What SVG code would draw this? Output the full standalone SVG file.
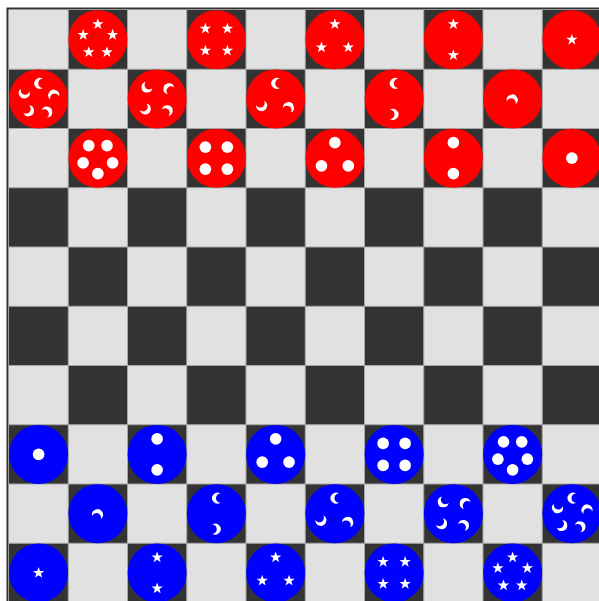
<svg xmlns="http://www.w3.org/2000/svg" xmlns:xlink="http://www.w3.org/1999/xlink" width="599" height="601" viewBox="0 0 599 601">
<style>
.dark{fill:#333333}
.grid{stroke:#a6a6a6;stroke-width:1;fill:none}
.red{fill:#ff0000}
.blue{fill:#0000ff}
.sym{fill:#ffffff}
</style>
<defs>
<circle id="dot" r="5.8" class="sym"/>
<path id="star" class="sym" d="M0,-6 L1.41,-1.94 L5.71,-1.85 L2.28,0.74 L3.53,4.85 L0,2.4 L-3.53,4.85 L-2.28,0.74 L-5.71,-1.85 L-1.41,-1.94 Z"/>
<path id="moon" class="sym" d="M4.22,-4.6 A5.5,5.5 0 1 0 4.22,4.6 A4.6,4.6 0 1 1 4.22,-4.6 Z"/>
<g id="d1"><use xlink:href="#dot"/></g>
<g id="d2"><use xlink:href="#dot" y="-15.5"/><use xlink:href="#dot" y="15.5"/></g>
<g id="d3"><use xlink:href="#dot" y="-15.5"/><use xlink:href="#dot" x="13.42" y="7.75"/><use xlink:href="#dot" x="-13.42" y="7.75"/></g>
<g id="d4"><use xlink:href="#dot" x="-11" y="-11"/><use xlink:href="#dot" x="11" y="-11"/><use xlink:href="#dot" x="-11" y="11"/><use xlink:href="#dot" x="11" y="11"/></g>
<g id="d5"><use xlink:href="#dot" y="15.5"/><use xlink:href="#dot" x="-14.74" y="4.79"/><use xlink:href="#dot" x="-9.11" y="-12.54"/><use xlink:href="#dot" x="9.11" y="-12.54"/><use xlink:href="#dot" x="14.74" y="4.79"/></g>
<g id="s1"><use xlink:href="#star"/></g>
<g id="s2"><use xlink:href="#star" y="-15.5"/><use xlink:href="#star" y="15.5"/></g>
<g id="s3"><use xlink:href="#star" y="-15.5"/><use xlink:href="#star" x="13.42" y="7.75"/><use xlink:href="#star" x="-13.42" y="7.75"/></g>
<g id="s4"><use xlink:href="#star" x="-11" y="-11"/><use xlink:href="#star" x="11" y="-11"/><use xlink:href="#star" x="-11" y="11"/><use xlink:href="#star" x="11" y="11"/></g>
<g id="s5"><use xlink:href="#star" y="-15.5"/><use xlink:href="#star" x="14.74" y="-4.79"/><use xlink:href="#star" x="9.11" y="12.54"/><use xlink:href="#star" x="-9.11" y="12.54"/><use xlink:href="#star" x="-14.74" y="-4.79"/></g>
<g id="m1"><use xlink:href="#moon" transform="rotate(110)"/></g>
<g id="m2"><use xlink:href="#moon" transform="translate(0,-15.5)"/><use xlink:href="#moon" transform="rotate(180) translate(0,-15.5)"/></g>
<g id="m3"><use xlink:href="#moon" transform="translate(0,-15.5)"/><use xlink:href="#moon" transform="rotate(120) translate(0,-15.5)"/><use xlink:href="#moon" transform="rotate(240) translate(0,-15.5)"/></g>
<g id="m4"><use xlink:href="#moon" transform="rotate(-45) translate(0,-15.5)"/><use xlink:href="#moon" transform="rotate(45) translate(0,-15.5)"/><use xlink:href="#moon" transform="rotate(135) translate(0,-15.5)"/><use xlink:href="#moon" transform="rotate(225) translate(0,-15.5)"/></g>
<g id="m5"><use xlink:href="#moon" transform="translate(0,-15.5)"/><use xlink:href="#moon" transform="rotate(72) translate(0,-15.5)"/><use xlink:href="#moon" transform="rotate(144) translate(0,-15.5)"/><use xlink:href="#moon" transform="rotate(216) translate(0,-15.5)"/><use xlink:href="#moon" transform="rotate(288) translate(0,-15.5)"/></g>
</defs>
<rect width="599" height="601" fill="#ffffff"/>
<g id="board">
<rect x="9" y="10" width="593" height="593" fill="#e1e1e1"/>
<g class="dark">
<rect x="68.25" y="10" width="59.25" height="59.25"/><rect x="186.75" y="10" width="59.25" height="59.25"/><rect x="305.25" y="10" width="59.25" height="59.25"/><rect x="423.75" y="10" width="59.25" height="59.25"/><rect x="542.25" y="10" width="59.25" height="59.25"/>
<rect x="9" y="69.25" width="59.25" height="59.25"/><rect x="127.5" y="69.25" width="59.25" height="59.25"/><rect x="246" y="69.25" width="59.25" height="59.25"/><rect x="364.5" y="69.25" width="59.25" height="59.25"/><rect x="483" y="69.25" width="59.25" height="59.25"/>
<rect x="68.25" y="128.5" width="59.25" height="59.25"/><rect x="186.75" y="128.5" width="59.25" height="59.25"/><rect x="305.25" y="128.5" width="59.25" height="59.25"/><rect x="423.75" y="128.5" width="59.25" height="59.25"/><rect x="542.25" y="128.5" width="59.25" height="59.25"/>
<rect x="9" y="187.75" width="59.25" height="59.25"/><rect x="127.5" y="187.75" width="59.25" height="59.25"/><rect x="246" y="187.75" width="59.25" height="59.25"/><rect x="364.5" y="187.75" width="59.25" height="59.25"/><rect x="483" y="187.75" width="59.25" height="59.25"/>
<rect x="68.25" y="247" width="59.25" height="59.25"/><rect x="186.75" y="247" width="59.25" height="59.25"/><rect x="305.25" y="247" width="59.25" height="59.25"/><rect x="423.75" y="247" width="59.25" height="59.25"/><rect x="542.25" y="247" width="59.25" height="59.25"/>
<rect x="9" y="306.25" width="59.25" height="59.25"/><rect x="127.5" y="306.25" width="59.25" height="59.25"/><rect x="246" y="306.25" width="59.25" height="59.25"/><rect x="364.5" y="306.25" width="59.25" height="59.25"/><rect x="483" y="306.25" width="59.25" height="59.25"/>
<rect x="68.25" y="365.5" width="59.25" height="59.25"/><rect x="186.75" y="365.5" width="59.25" height="59.25"/><rect x="305.25" y="365.5" width="59.25" height="59.25"/><rect x="423.75" y="365.5" width="59.25" height="59.25"/><rect x="542.25" y="365.5" width="59.25" height="59.25"/>
<rect x="9" y="424.75" width="59.25" height="59.25"/><rect x="127.5" y="424.75" width="59.25" height="59.25"/><rect x="246" y="424.75" width="59.25" height="59.25"/><rect x="364.5" y="424.75" width="59.25" height="59.25"/><rect x="483" y="424.75" width="59.25" height="59.25"/>
<rect x="68.25" y="484" width="59.25" height="59.25"/><rect x="186.75" y="484" width="59.25" height="59.25"/><rect x="305.25" y="484" width="59.25" height="59.25"/><rect x="423.75" y="484" width="59.25" height="59.25"/><rect x="542.25" y="484" width="59.25" height="59.25"/>
<rect x="9" y="543.25" width="59.25" height="59.25"/><rect x="127.5" y="543.25" width="59.25" height="59.25"/><rect x="246" y="543.25" width="59.25" height="59.25"/><rect x="364.5" y="543.25" width="59.25" height="59.25"/><rect x="483" y="543.25" width="59.25" height="59.25"/>
</g>
<path class="grid" d="M68.25,10V603M127.5,10V603M186.75,10V603M246,10V603M305.25,10V603M364.5,10V603M423.75,10V603M483,10V603M542.25,10V603M9,69.25H602M9,128.5H602M9,187.75H602M9,247H602M9,306.25H602M9,365.5H602M9,424.75H602M9,484H602M9,543.25H602"/>
<rect x="7.5" y="8.5" width="600" height="600" fill="none" stroke="#333333" stroke-width="2"/>
</g>
<g id="red-pieces">
<g id="red-s5" transform="translate(97.875,39.625)"><circle r="29.5" class="red"/><use xlink:href="#s5"/></g>
<g id="red-s4" transform="translate(216.375,39.625)"><circle r="29.5" class="red"/><use xlink:href="#s4"/></g>
<g id="red-s3" transform="translate(334.875,39.625)"><circle r="29.5" class="red"/><use xlink:href="#s3"/></g>
<g id="red-s2" transform="translate(453.375,39.625)"><circle r="29.5" class="red"/><use xlink:href="#s2"/></g>
<g id="red-s1" transform="translate(571.875,39.625)"><circle r="29.5" class="red"/><use xlink:href="#s1"/></g>
<g id="red-m5" transform="translate(38.625,98.875)"><circle r="29.5" class="red"/><use xlink:href="#m5"/></g>
<g id="red-m4" transform="translate(157.125,98.875)"><circle r="29.5" class="red"/><use xlink:href="#m4"/></g>
<g id="red-m3" transform="translate(275.625,98.875)"><circle r="29.5" class="red"/><use xlink:href="#m3"/></g>
<g id="red-m2" transform="translate(394.125,98.875)"><circle r="29.5" class="red"/><use xlink:href="#m2"/></g>
<g id="red-m1" transform="translate(512.625,98.875)"><circle r="29.5" class="red"/><use xlink:href="#m1"/></g>
<g id="red-d5" transform="translate(97.875,158.125)"><circle r="29.5" class="red"/><use xlink:href="#d5"/></g>
<g id="red-d4" transform="translate(216.375,158.125)"><circle r="29.5" class="red"/><use xlink:href="#d4"/></g>
<g id="red-d3" transform="translate(334.875,158.125)"><circle r="29.5" class="red"/><use xlink:href="#d3"/></g>
<g id="red-d2" transform="translate(453.375,158.125)"><circle r="29.5" class="red"/><use xlink:href="#d2"/></g>
<g id="red-d1" transform="translate(571.875,158.125)"><circle r="29.5" class="red"/><use xlink:href="#d1"/></g>
</g>
<g id="blue-pieces">
<g id="blue-d1" transform="translate(38.625,454.375)"><circle r="29.5" class="blue"/><use xlink:href="#d1"/></g>
<g id="blue-d2" transform="translate(157.125,454.375)"><circle r="29.5" class="blue"/><use xlink:href="#d2"/></g>
<g id="blue-d3" transform="translate(275.625,454.375)"><circle r="29.5" class="blue"/><use xlink:href="#d3"/></g>
<g id="blue-d4" transform="translate(394.125,454.375)"><circle r="29.5" class="blue"/><use xlink:href="#d4"/></g>
<g id="blue-d5" transform="translate(512.625,454.375)"><circle r="29.5" class="blue"/><use xlink:href="#d5"/></g>
<g id="blue-m1" transform="translate(97.875,513.625)"><circle r="29.5" class="blue"/><use xlink:href="#m1"/></g>
<g id="blue-m2" transform="translate(216.375,513.625)"><circle r="29.5" class="blue"/><use xlink:href="#m2"/></g>
<g id="blue-m3" transform="translate(334.875,513.625)"><circle r="29.5" class="blue"/><use xlink:href="#m3"/></g>
<g id="blue-m4" transform="translate(453.375,513.625)"><circle r="29.5" class="blue"/><use xlink:href="#m4"/></g>
<g id="blue-m5" transform="translate(571.875,513.625)"><circle r="29.5" class="blue"/><use xlink:href="#m5"/></g>
<g id="blue-s1" transform="translate(38.625,572.875)"><circle r="29.5" class="blue"/><use xlink:href="#s1"/></g>
<g id="blue-s2" transform="translate(157.125,572.875)"><circle r="29.5" class="blue"/><use xlink:href="#s2"/></g>
<g id="blue-s3" transform="translate(275.625,572.875)"><circle r="29.5" class="blue"/><use xlink:href="#s3"/></g>
<g id="blue-s4" transform="translate(394.125,572.875)"><circle r="29.5" class="blue"/><use xlink:href="#s4"/></g>
<g id="blue-s5" transform="translate(512.625,572.875)"><circle r="29.5" class="blue"/><use xlink:href="#s5"/></g>
</g>
</svg>
